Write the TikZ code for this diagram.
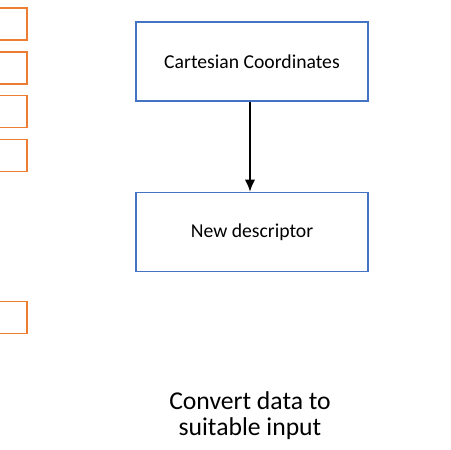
\documentclass[tikz,border=0pt]{standalone}
\usepackage{fontspec}
\setmainfont{Carlito}
\usetikzlibrary{arrows.meta,positioning}

\definecolor{boxblue}{RGB}{68,114,196}
\definecolor{boxorange}{RGB}{237,125,49}

\begin{document}
\begin{tikzpicture}[x=0.02cm, y=-0.02cm, every node/.style={font=\fontsize{11.2}{13}\selectfont},
    stepbox/.style={draw=boxblue, line width=0.6pt, minimum width=4.64cm, minimum height=1.58cm, inner sep=0pt},
    inbox/.style={draw=boxorange, line width=1.1pt, minimum width=1.2cm, minimum height=0.64cm, inner sep=0pt}]
  \useasboundingbox (0,0) rectangle (450,450);
  \clip (0,0) rectangle (450,450);
  % orange input boxes, cut at the left edge
  \foreach \i/\y in {1/24, 2/68, 3/111.5, 4/155.5, 5/317.5} {
    \node[inbox, anchor=east] (in\i) at (28,\y) {};
  }
  \node[stepbox] (cart) at (252,61.5) {Cartesian Coordinates};
  \node[stepbox] (desc) at (252,232) {New descriptor};
  \draw[-{Latex[length=7pt,width=6pt]}, line width=1.3pt] (cart.south -| 250,0) -- (desc.north -| 250,0);
  \node[font=\fontsize{14.6}{14.8}\selectfont, align=center] (caption) at (250,416) {Convert data to\\suitable input};
\end{tikzpicture}
\end{document}
